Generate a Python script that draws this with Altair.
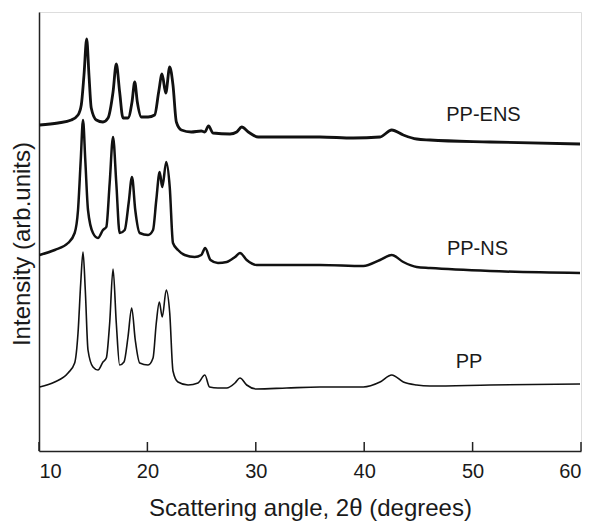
import altair as alt
import pandas as pd

# 2-theta (degrees) and intensity (arb. units)
ens_angle = [10.06, 11.75, 12.98, 13.60, 13.90, 14.15, 14.40, 14.61, 14.82, 15.29, 15.90, 16.37,
             16.83, 17.13, 17.44, 17.75, 18.21, 18.58, 18.83, 19.07, 19.44, 20.06, 20.67, 21.04,
             21.35, 21.69, 22.06, 22.36, 22.67, 23.13, 24.05, 24.97, 25.29, 25.64, 26.05, 27.62,
             28.24, 28.70, 29.31, 30.23, 32.85, 35.92, 38.99, 41.46, 42.54, 43.61, 44.84, 46.07,
             51.61, 59.91]
ens_int = [326, 328, 331, 336, 346, 376, 412, 376, 343, 331, 329, 333,
           359, 387, 359, 333, 333, 349, 369, 349, 334, 334, 336, 359,
           377, 358, 384, 366, 329, 321, 319, 320, 319, 325, 318, 317,
           319, 324, 319, 314, 314, 314, 313, 314, 321, 316, 312, 311,
           309, 307]

ns_angle = [10.06, 11.45, 12.68, 13.29, 13.60, 13.85, 14.06, 14.27, 14.52, 14.98, 15.44, 15.90,
            16.21, 16.52, 16.83, 17.13, 17.44, 17.91, 18.27, 18.58, 18.88, 19.29, 20.06, 20.52,
            20.82, 21.13, 21.37, 21.74, 22.06, 22.36, 22.82, 23.44, 24.36, 24.97, 25.33, 25.82,
            26.51, 27.32, 28.08, 28.54, 29.16, 30.08, 32.85, 35.92, 39.92, 41.46, 42.54, 43.61,
            44.84, 46.07, 51.61, 59.91]
ns_int = [196, 201, 208, 218, 241, 291, 331, 291, 241, 218, 213, 221,
          224, 268, 314, 268, 218, 221, 248, 274, 241, 218, 216, 221,
          251, 279, 264, 289, 264, 208, 201, 196, 194, 196, 203, 191,
          188, 189, 194, 198, 191, 186, 186, 186, 185, 191, 196, 189,
          184, 183, 180, 178]

pp_angle = [10.06, 11.45, 12.68, 13.29, 13.60, 13.85, 14.06, 14.27, 14.52, 14.98, 15.44, 15.90,
            16.21, 16.52, 16.83, 17.13, 17.44, 17.84, 18.21, 18.55, 18.88, 19.29, 20.06, 20.52,
            20.82, 21.10, 21.37, 21.74, 22.06, 22.36, 22.82, 23.75, 24.67, 25.30, 25.73, 26.51,
            27.32, 28.08, 28.54, 29.16, 30.08, 32.85, 35.92, 39.92, 41.46, 42.54, 43.61, 44.84,
            46.07, 51.61, 59.91]
pp_int = [64, 69, 78, 88, 118, 168, 199, 161, 101, 84, 81, 89,
          93, 128, 182, 128, 86, 89, 114, 143, 111, 88, 86, 93,
          128, 149, 134, 161, 138, 80, 69, 66, 68, 76, 64, 63,
          63, 68, 73, 66, 62, 63, 64, 64, 69, 76, 69, 66,
          65, 66, 67]

label_text = ["PP-ENS", "PP-NS", "PP"]
label_angle = [51.0, 50.45, 49.67]
label_int = [330, 196, 83]

x_ticks = [10, 20, 30, 40, 50, 60]

FONT = "Liberation Sans"
INK = "#1a1a1a"

rows = []
for name, xs, ys in [("PP-ENS", ens_angle, ens_int), ("PP-NS", ns_angle, ns_int), ("PP", pp_angle, pp_int)]:
    for i, (a, v) in enumerate(zip(xs, ys)):
        rows.append({"sample": name, "angle": a, "intensity": v, "order": i})
df = pd.DataFrame(rows)

xscale = alt.Scale(domain=[10, 60], nice=False, zero=False)
yscale = alt.Scale(domain=[0, 439], nice=False, zero=False)

xaxis = alt.Axis(values=x_ticks, ticks=False, grid=False, labelFontSize=20, labelFont=FONT,
                 labelColor=INK, labelPadding=10, title="Scattering angle, 2θ (degrees)",
                 titleFontSize=24, titleFont=FONT, titleFontWeight="normal", titleColor=INK,
                 titlePadding=15, domainColor="#222222", domainWidth=1.5)
yaxis = alt.Axis(labels=False, ticks=False, grid=False, title="Intensity (arb.units)",
                 titleFontSize=24, titleFont=FONT, titleFontWeight="normal", titleColor=INK,
                 titlePadding=5, titleY=231.5, domainColor="#222222", domainWidth=1.5)

X = lambda f: alt.X(f, scale=xscale, axis=xaxis)
Y = lambda f: alt.Y(f, scale=yscale, axis=yaxis)

base = alt.Chart(df)

widths = {"PP-ENS": 2.8, "PP-NS": 2.5, "PP": 1.6}
layers = []
for name in ["PP-ENS", "PP-NS", "PP"]:
    layers.append(
        base.transform_filter(alt.datum.sample == name)
        .mark_line(color="#111111", strokeWidth=widths[name], interpolate="monotone")
        .encode(x=X("angle:Q"), y=Y("intensity:Q"), order="order:Q")
    )

ticks = alt.Chart(pd.DataFrame({"angle": x_ticks})).mark_rule(color="#222222", strokeWidth=1.5).encode(
    x=X("angle:Q"), y=alt.value(430), y2=alt.value(439))

labels = alt.Chart(pd.DataFrame({"label": label_text, "angle": label_angle, "intensity": label_int})).mark_text(
    font=FONT, fontSize=20, color=INK, align="center", baseline="alphabetic").encode(
    x=X("angle:Q"), y=Y("intensity:Q"), text="label:N")

chart = alt.layer(*layers, ticks, labels).properties(
    width=542, height=439, autosize=alt.AutoSizeParams(type="none"),
    padding={"left": 39, "top": 12, "right": 12, "bottom": 70},
).configure_view(stroke="#b0b0b0", strokeWidth=1).configure(background="white")

chart.save("out.html", embed_options={"renderer": "svg", "actions": False})
